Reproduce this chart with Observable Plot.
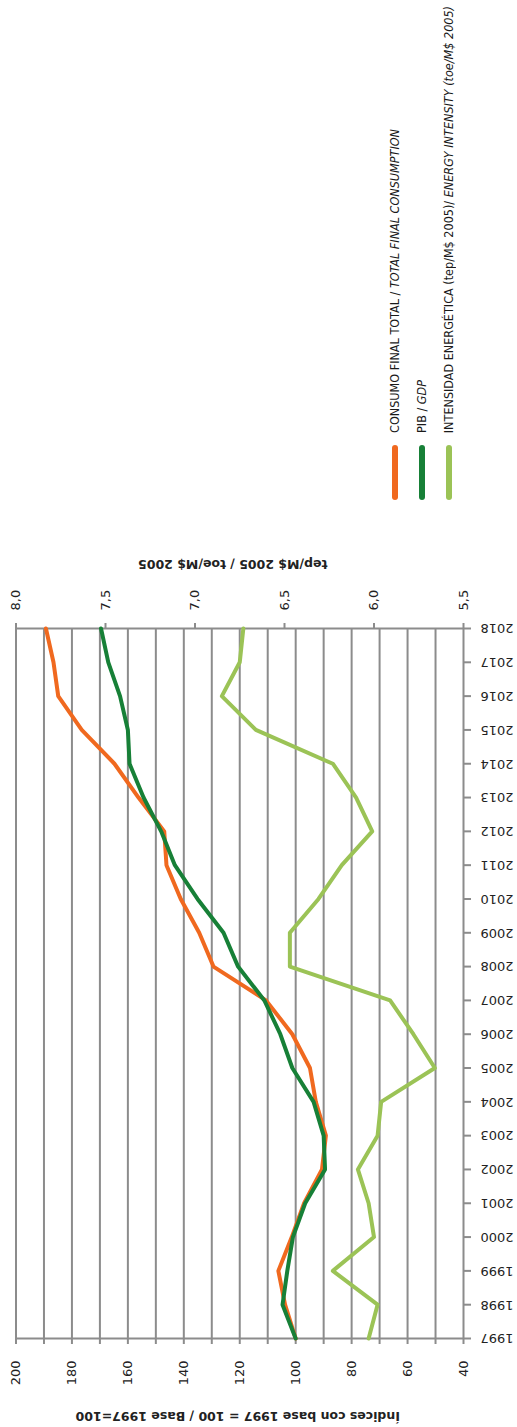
<!DOCTYPE html>
<html><head><meta charset="utf-8">
<script src="https://cdn.jsdelivr.net/npm/d3@7"></script>
<script src="https://cdn.jsdelivr.net/npm/@observablehq/plot@0.6"></script>
<style>
body{margin:0;background:#fff;}
#wrap{position:relative;width:517px;height:1427px;overflow:hidden;background:#fff;}
#chart{position:absolute;left:0;top:0;}
.leg{position:absolute;font-family:"Liberation Sans Narrow","DejaVu Sans Condensed",sans-serif;font-size:12.5px;color:#1a1a1a;writing-mode:vertical-rl;transform:rotate(180deg);white-space:nowrap;line-height:14px;width:14px;}
.sw{position:absolute;width:6px;border-radius:3px;}
</style></head>
<body><div id="wrap"><div id="chart"></div></div>
<script>
const years = [1997,1998,1999,2000,2001,2002,2003,2004,2005,2006,2007,2008,2009,2010,2011,2012,2013,2014,2015,2016,2017,2018];
const consumo = [100,103.8,106.2,101.4,97,90.6,89.2,92.8,94.9,101.2,110.6,129.4,134.5,141.1,146.2,147.0,156.2,164.8,176.5,184.9,186.6,189.3];
const pib = [100,104.7,103,101,96.6,89.5,90,93.6,101.2,105.5,111.2,120.6,125.8,135.1,143.2,148.1,154.4,159.4,160,162.8,167.0,169.6];
const intensidad = [6.03,5.98,6.23,6.00,6.03,6.09,5.98,5.96,5.66,5.78,5.91,6.47,6.47,6.31,6.18,6.01,6.10,6.23,6.66,6.85,6.75,6.73];
const indexTicks = [200,180,160,140,120,100,80,60,40];
const gridValues = [200,190,180,170,160,150,140,130,120,110,100,90,80,70,60,50,40];
const intensityTicks = [8.0,7.5,7.0,6.5,6.0,5.5];
const seriesLabels = [
  ["CONSUMO FINAL TOTAL / ", "TOTAL FINAL CONSUMPTION"],
  ["PIB / ", "GDP"],
  ["INTENSIDAD ENERGÉTICA (tep/M$ 2005)/ ", "ENERGY INTENSITY (toe/M$ 2005)"]
];
const seriesColors = ["#F0691F", "#178037", "#9BC356"];
const bottomTitle = ["Índices con base 1997 = 100 / ", "Base 1997=100"];
const topTitle = ["tep/M$ 2005 / ", "toe/M$ 2005"];

const GRAY = "#8c8c8c";
const toIndex = v => 40 + (v - 5.5) * 64;

const consumoData = years.map((y, i) => ({year: y, value: consumo[i]}));
const pibData = years.map((y, i) => ({year: y, value: pib[i]}));
const intData = years.map((y, i) => ({year: y, value: toIndex(intensidad[i])}));

const plot = Plot.plot({
  width: 517, height: 1427,
  marginTop: 628, marginBottom: 89, marginLeft: 15.5, marginRight: 54,
  x: {domain: [200, 40]},
  y: {domain: [1997, 2018]},
  style: {fontFamily: "DejaVu Sans", fontSize: "13px", color: "#222", background: "white"},
  marks: [
    Plot.ruleX(gridValues, {stroke: GRAY, strokeWidth: 2}),
    Plot.ruleY([1997, 2018], {stroke: GRAY, strokeWidth: 2}),
    Plot.axisX({ticks: gridValues, anchor: "bottom", tickSize: 6, tickFormat: () => "", label: null, stroke: GRAY, strokeWidth: 2}),
    Plot.axisX({ticks: intensityTicks.map(toIndex), anchor: "top", tickSize: 6, tickFormat: () => "", label: null, stroke: GRAY, strokeWidth: 2}),
    Plot.axisY({ticks: years, anchor: "right", tickSize: 7, tickFormat: () => "", label: null, stroke: GRAY, strokeWidth: 2}),
    Plot.text(indexTicks, {x: d => d, frameAnchor: "bottom", dy: 22, rotate: -90, textAnchor: "end", lineAnchor: "middle", text: d => String(d)}),
    Plot.text(intensityTicks, {x: d => toIndex(d), frameAnchor: "top", dy: -18, rotate: -90, textAnchor: "start", lineAnchor: "middle", text: d => d.toFixed(1).replace(".", ",")}),
    Plot.text(years, {y: d => d, frameAnchor: "right", dx: 17, rotate: 180, textAnchor: "end", lineAnchor: "middle", text: d => String(d)}),
    Plot.text([bottomTitle.join("")], {frameAnchor: "bottom", dx: -2, dy: 77, rotate: 180, fontWeight: "bold", fontSize: 12.5, lineAnchor: "middle", ariaLabel: "title-bottom"}),
    Plot.text([topTitle.join("")], {frameAnchor: "top", dx: -7, dy: -65, rotate: 180, fontWeight: "bold", fontSize: 12.5, lineAnchor: "middle", ariaLabel: "title-top"}),
    Plot.line(intData, {x: "value", y: "year", stroke: seriesColors[2], strokeWidth: 4, strokeLinejoin: "round"}),
    Plot.line(consumoData, {x: "value", y: "year", stroke: seriesColors[0], strokeWidth: 4, strokeLinejoin: "round"}),
    Plot.line(pibData, {x: "value", y: "year", stroke: seriesColors[1], strokeWidth: 4, strokeLinejoin: "round"})
  ]
});
document.getElementById("chart").appendChild(plot);

function splitTitle(label, parts) {
  const t = d3.select(plot).select(`g[aria-label="${label}"] text`);
  t.text("");
  t.append("tspan").text(parts[0]);
  t.append("tspan").attr("font-style", "italic").text(parts[1]);
}
splitTitle("title-bottom", bottomTitle);
splitTitle("title-top", topTitle);

// legend
const wrap = document.getElementById("wrap");
const legX = [395, 422, 449];
seriesLabels.forEach((parts, i) => {
  const sw = document.createElement("div");
  sw.className = "sw";
  sw.style.left = (legX[i] - 3) + "px";
  sw.style.top = "445px";
  sw.style.height = "55px";
  sw.style.background = seriesColors[i];
  wrap.appendChild(sw);
  const tx = document.createElement("div");
  tx.className = "leg";
  tx.style.left = (legX[i] - 7) + "px";
  tx.style.bottom = (1427 - 433) + "px";
  tx.appendChild(document.createTextNode(parts[0]));
  const it = document.createElement("i");
  it.textContent = parts[1];
  tx.appendChild(it);
  wrap.appendChild(tx);
});
</script>
</body></html>
